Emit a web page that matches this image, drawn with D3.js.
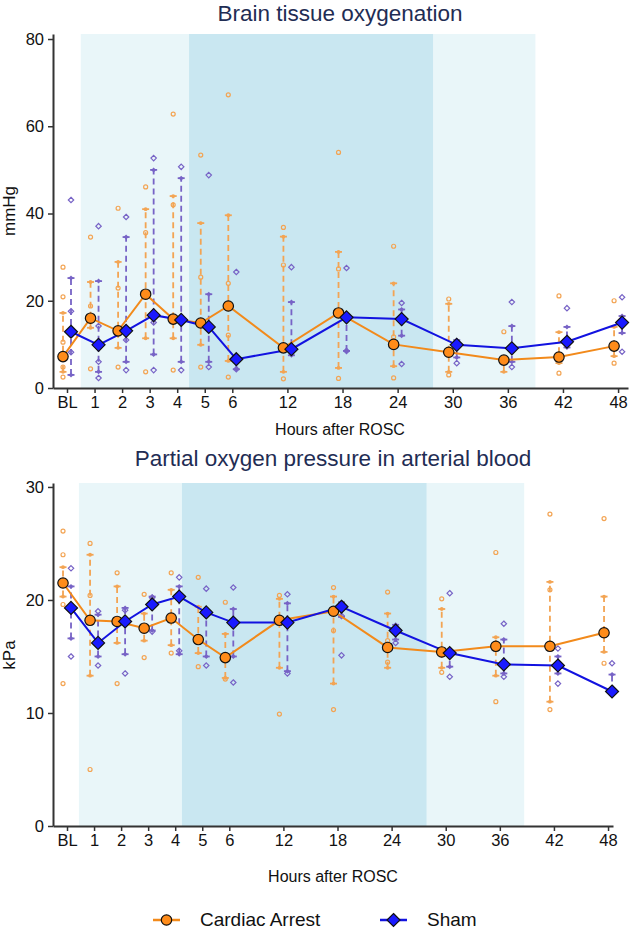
<!DOCTYPE html>
<html><head><meta charset="utf-8">
<script src="https://cdn.jsdelivr.net/npm/d3@7"></script>
<style>body{margin:0;background:#fff}svg{display:block;font-family:"Liberation Sans",Arial,sans-serif}</style>
</head><body><svg id="c" width="630" height="931"></svg>
<script>
// ---------- data ----------
const hours = [0,1,2,3,4,5,6,12,18,24,30,36,42,48];
const hourLabels = ["BL","1","2","3","4","5","6","12","18","24","30","36","42","48"];
const seriesNames = ["Cardiac Arrest","Sham"];

// Brain tissue oxygenation (mmHg)
const caMeanPbt   = [7.2,16,13.1,21.5,15.8,14.9,18.8,9.2,17.2,10,8.2,6.4,7.1,9.6];
const shamMeanPbt = [12.9,9.9,13.1,16.7,15.6,14,6.6,8.9,16.2,15.8,9.9,9.1,10.6,15];
const caLowPbt    = [3.7,13.8,9.2,11.4,11.4,9.9,6.2,3.7,4.6,5,3.7,3.7,5.7,7.3];
const caHighPbt   = [17.2,24.3,28.9,41,44,37.8,39.6,34.7,31.2,24,19.3,6.4,12.8,14];
const shamLowPbt  = [3,3.7,6,7.7,6,6,4.3,7.5,8.5,12,7,6,9.3,12.6];
const shamHighPbt = [25.2,24.5,34.6,50,48.1,21.5,6.6,19.7,16.2,18,11,14.2,14,16.5];
const caPtsPbt = [[27.7,20.9,10.5,4.8,2.5],[34.6,18.8,4.4],[41.2,22.9,4.8],[46.1,35.6,3.7],[62.8,42,4.1],[53.4,25.4,4.8],[67.2,24,12.1,2.5],[36.8,28.2,2.1],[54,27.3,2.2],[32.5,11.7,2.3],[20.4,3],[12.9],[21.1,3.4],[20,5.7]];
const shamPtsPbt = [[43.1,17.6,8.2],[37.1,14.2,6,2.3],[39.2,11,4.1],[52.7,15,4.1],[50.7,4.1],[48.8,4.8],[26.6,4.3],[27.7],[27.5,8.5],[19.5,5.5],[5.7],[19.7,4.8],[18.3],[20.8,8.3]];
const bandsPbt = [[0.5,4.43,"light"],[4.43,27.9,"dark"],[27.9,39,"light"]];
const yTicksPbt = [0,20,40,60,80];

// Partial oxygen pressure in arterial blood (kPa)
const caMeanPa   = [21.5,18.2,18.1,17.5,18.4,16.5,14.9,18.2,19,15.8,15.4,15.9,15.9,17.1];
const shamMeanPa = [19.3,16.2,18.1,19.6,20.3,18.9,18,18,19.4,17.3,15.3,14.3,14.2,11.9];
const caLowPa    = [20.3,13.3,16.2,16.4,16,15.3,13.1,14,12.6,14,14,13.3,11,15.4];
const caHighPa   = [22.9,24,21.2,18.8,20.9,19.4,17,20.1,20.3,18.8,19.2,16.7,21.6,20.3];
const shamLowPa  = [16.6,15,15.2,17.3,15.2,15,15,13.7,18.5,16.5,14.1,13.5,13.5,11.9];
const shamHighPa = [21.2,18.7,19.3,20.3,21.2,19,19.2,19.7,19.8,17.8,15.3,16.5,15,13.4];
const caPtsPa = [[26.1,24,19.6,12.6],[25,20.4,5],[22.4,12.6],[20.5,14.9],[22.4,15.3],[22,14.1],[19.8,13],[20.4,9.9],[21.1,17.3,10.3],[20.7,16.4,14.5],[20.1,13.6],[24.2,11],[27.6,20.9,10.3],[27.2,14.4]];
const shamPtsPa = [[22.8,15],[19,14.2],[19.1,13.5],[20.2,17.2],[22,15.5],[21,14.2],[21.1,12.7],[20.5,13.5],[18.6,15.1],[16.2],[20.6,13.2],[17.9,13.2],[15.7,12.6],[14.4]];
const bandsPa = [[0.44,4.25,"light"],[4.25,27.9,"dark"],[27.9,38.7,"light"]];
const yTicksPa = [0,10,20,30];

// ---------- style ----------
const C = {
  caLine:"#f28a1b", caFill:"#ff8c1a", caLight:"#f3a453",
  shLine:"#1212e0", shFill:"#1a1aff", shLight:"#7763c6",
  light:"#e9f6f9", dark:"#c9e7f1", axis:"#333", title:"#1f2d54"
};
const svg = d3.select("#c");
const diamond = (s)=>`M0,${-s}L${s},0L0,${s}L${-s},0Z`;

function panel(cfg){
  const g = svg.append("g");
  const x = d3.scaleLinear().domain(cfg.xDomain).range(cfg.xRange);
  const y = d3.scaleLinear().domain(cfg.yDomain).range(cfg.yRange);
  const top = cfg.yRange[1], bot = cfg.yRange[0];
  g.selectAll("rect.band").data(cfg.bands).join("rect")
    .attr("x",d=>x(d[0])).attr("width",d=>x(d[1])-x(d[0]))
    .attr("y",top).attr("height",bot-top)
    .attr("fill",d=>d[2]==="dark"?C.dark:C.light);
  g.append("text").attr("x",cfg.titleX).attr("y",cfg.titleY).attr("text-anchor","middle")
    .attr("font-size",22.5).attr("fill",C.title).text(cfg.title);
  const groups = [
    {mean:cfg.ca, lo:cfg.caLo, hi:cfg.caHi, pts:cfg.caPts, dx:-4, light:C.caLight, line:C.caLine, fill:C.caFill, shape:"circle"},
    {mean:cfg.sh, lo:cfg.shLo, hi:cfg.shHi, pts:cfg.shPts, dx:4, light:C.shLight, line:C.shLine, fill:C.shFill, shape:"diamond"}
  ];
  groups.forEach(G=>{
    const wg = g.append("g");
    hours.forEach((h,i)=>{
      const cx = x(h)+G.dx;
      wg.append("line").attr("x1",cx).attr("x2",cx).attr("y1",y(G.lo[i])).attr("y2",y(G.hi[i]))
        .attr("stroke",G.light).attr("stroke-width",1.8).attr("stroke-dasharray","6,4");
      [G.lo[i],G.hi[i]].forEach(v=>{
        wg.append("line").attr("x1",cx-3.5).attr("x2",cx+3.5).attr("y1",y(v)).attr("y2",y(v))
          .attr("stroke",G.light).attr("stroke-width",1.8);
        if(G.shape==="circle") wg.append("circle").attr("cx",cx).attr("cy",y(v)).attr("r",1.9).attr("fill",G.light);
        else wg.append("path").attr("transform",`translate(${cx},${y(v)})`).attr("d",diamond(2.5)).attr("fill",G.light);
      });
      G.pts[i].forEach(v=>{
        if(G.shape==="circle") wg.append("circle").attr("cx",cx).attr("cy",y(v)).attr("r",2)
          .attr("fill","none").attr("stroke",G.light).attr("stroke-width",1.2);
        else wg.append("path").attr("transform",`translate(${cx},${y(v)})`).attr("d",diamond(2.7))
          .attr("fill","none").attr("stroke",G.light).attr("stroke-width",1.2);
      });
    });
  });
  groups.forEach(G=>{
    g.append("path").datum(hours.map((h,i)=>[x(h)+G.dx,y(G.mean[i])]))
      .attr("d",d3.line()).attr("fill","none").attr("stroke",G.line).attr("stroke-width",2);
  });
  groups.forEach(G=>{
    hours.forEach((h,i)=>{
      if(G.shape==="circle") g.append("circle").attr("cx",x(h)+G.dx).attr("cy",y(G.mean[i])).attr("r",5.2)
        .attr("fill",G.fill).attr("stroke","#111").attr("stroke-width",1.2);
      else g.append("path").attr("transform",`translate(${x(h)+G.dx},${y(G.mean[i])})`).attr("d",diamond(6.5))
        .attr("fill",G.fill).attr("stroke","#111").attr("stroke-width",1.2);
    });
  });
  const xa = g.append("g").attr("transform",`translate(0,${bot})`)
    .call(d3.axisBottom(x).tickValues(hours).tickFormat((d,i)=>hourLabels[i]).tickSize(5).tickSizeOuter(0).tickPadding(3));
  const ya = g.append("g").attr("transform",`translate(${cfg.xRange[0]},0)`)
    .call(d3.axisLeft(y).tickValues(cfg.yTicks).tickSize(5).tickSizeOuter(0).tickPadding(4));
  [xa,ya].forEach(a=>{
    a.select(".domain").attr("stroke",C.axis).attr("stroke-width",2);
    a.selectAll(".tick line").attr("stroke",C.axis).attr("stroke-width",1.5);
    a.selectAll(".tick text").attr("font-size",16.5).attr("fill","#111").attr("font-family","Liberation Sans, Arial, sans-serif");
  });
  g.append("text").attr("x",cfg.xLabX).attr("y",cfg.xLabY).attr("text-anchor","middle")
    .attr("font-size",16).attr("fill","#111").text("Hours after ROSC");
  g.append("text").attr("transform",`translate(${cfg.yLabX},${cfg.yLabY}) rotate(-90)`).attr("text-anchor","middle")
    .attr("font-size",17).attr("fill","#111").text(cfg.yLab);
}

panel({
  title:"Brain tissue oxygenation", titleX:340, titleY:21,
  xDomain:[-0.508,6,49.08], xRange:[53,232.3,628],
  yDomain:[0,81.15], yRange:[388,34], yTicks:yTicksPbt,
  bands:bandsPbt,
  ca:caMeanPbt, caLo:caLowPbt, caHi:caHighPbt, caPts:caPtsPbt,
  sh:shamMeanPbt, shLo:shamLowPbt, shHi:shamHighPbt, shPts:shamPtsPbt,
  xLabX:340, xLabY:435, yLab:"mmHg", yLabX:15, yLabY:211
});
panel({
  title:"Partial oxygen pressure in arterial blood", titleX:333, titleY:466,
  xDomain:[-0.518,6,48.55], xRange:[53,229.3,613],
  yDomain:[0,30.35], yRange:[826,483], yTicks:yTicksPa,
  bands:bandsPa,
  ca:caMeanPa, caLo:caLowPa, caHi:caHighPa, caPts:caPtsPa,
  sh:shamMeanPa, shLo:shamLowPa, shHi:shamHighPa, shPts:shamPtsPa,
  xLabX:333, xLabY:882, yLab:"kPa", yLabX:15, yLabY:655
});

const lg = svg.append("g");
const legendItems = [
  {name:seriesNames[0], x:153, line:C.caLine, fill:C.caFill, shape:"circle"},
  {name:seriesNames[1], x:380, line:C.shLine, fill:C.shFill, shape:"diamond"}
];
legendItems.forEach(d=>{
  lg.append("line").attr("x1",d.x).attr("x2",d.x+27).attr("y1",920).attr("y2",920).attr("stroke",d.line).attr("stroke-width",2.5);
  if(d.shape==="circle") lg.append("circle").attr("cx",d.x+13.5).attr("cy",920).attr("r",5.2).attr("fill",d.fill).attr("stroke","#111").attr("stroke-width",1.2);
  else lg.append("path").attr("transform",`translate(${d.x+13.5},920)`).attr("d",diamond(6.5)).attr("fill",d.fill).attr("stroke","#111").attr("stroke-width",1.2);
  lg.append("text").attr("x",d.x+47).attr("y",926).attr("font-size",19).attr("fill","#111").text(d.name);
});
</script></body></html>
